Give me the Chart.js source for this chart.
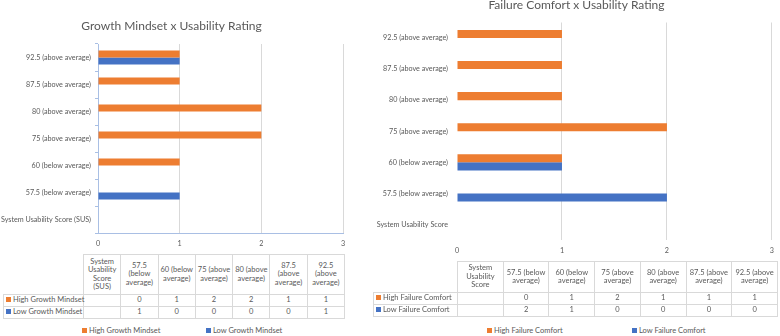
<!DOCTYPE html>
<html>
<head>
<meta charset="utf-8">
<script src="https://cdn.jsdelivr.net/npm/chart.js@4.4.0/dist/chart.umd.min.js"></script>
<style>
  body { margin: 0; width: 780px; height: 336px; overflow: hidden; background: #fff; position: relative;
         font-family: Lato, sans-serif; color: #595959; }
  canvas { position: absolute; }
  table.dt { position: absolute; border-collapse: collapse; table-layout: fixed; font-size: 7.5px; }
  table.dt td { border: 1px solid #d9d9d9; text-align: center; padding: 0 1px; line-height: 8.5px; }
  table.dt td.lbl { text-align: left; white-space: nowrap; padding-left: 2px; }
  table.dt td.blank { border: none; }
  .sw { display: inline-block; width: 5px; height: 5px; margin-right: 2px; vertical-align: 0; }
  .leg { position: absolute; font-size: 7.5px; white-space: nowrap; line-height: 9px; }
</style>
</head>
<body>
<canvas id="leftChart" width="390" height="253" style="left:0;top:0"></canvas>
<canvas id="rightChart" width="405" height="280" style="left:375px;top:-20px"></canvas>
<table class="dt" id="leftTable" style="left:3px;top:254px;width:342px"></table>
<table class="dt" id="rightTable" style="left:373px;top:261px;width:405px"></table>
<div id="leftLegend"></div>
<div id="rightLegend"></div>
<script>
// categories (bottom to top, same order as the data tables)
const leftCategories = ["System Usability Score (SUS)", "57.5 (below average)", "60 (below average)",
  "75 (above average)", "80 (above average)", "87.5 (above average)", "92.5 (above average)"];
const rightCategories = ["System Usability Score", "57.5 (below average)", "60 (below average)",
  "75 (above average)", "80 (above average)", "87.5 (above average)", "92.5 (above average)"];

// series values (first column is blank in the source)
const highGrowth = [null, 0, 1, 2, 2, 1, 1];
const lowGrowth = [null, 1, 0, 0, 0, 0, 1];
const highFailure = [null, 0, 1, 2, 1, 1, 1];
const lowFailure = [null, 2, 1, 0, 0, 0, 0];

const xMin = 0, xMax = 3, xStep = 1;

const ORANGE = "#ED7D31";
const BLUE = "#4472C4";
const TEXT = "#595959";
const GRID = "#d9d9d9";
const AXIS_BLUE = "#a9bfe4";
const small = { family: "Lato", size: 7.2 };

function gridColor(ctx) {
  return ctx.tick && ctx.tick.value === 0 ? "rgba(0,0,0,0)" : GRID;
}

function makeChart(id, title, labels, series, opt) {
  return new Chart(document.getElementById(id), {
    type: "bar",
    data: {
      labels: labels,
      datasets: series.map(s => ({
        label: s.label, data: s.data, backgroundColor: s.color,
        categoryPercentage: 0.52, barPercentage: 1
      }))
    },
    options: {
      indexAxis: "y",
      responsive: false,
      animation: false,
      layout: { padding: opt.padding },
      plugins: {
        legend: { display: false },
        tooltip: { enabled: false },
        title: {
          display: true, text: title, color: TEXT,
          font: { family: "Lato", size: 12, weight: "normal" },
          padding: opt.titlePad
        }
      },
      scales: {
        x: {
          min: xMin, max: xMax,
          ticks: { stepSize: xStep, color: TEXT, font: small, padding: 6 },
          grid: { color: gridColor, drawTicks: false },
          border: { display: opt.axisLines, color: AXIS_BLUE },
          afterFit: s => { s.height = 20; }
        },
        y: {
          reverse: true,
          ticks: { color: TEXT, font: small, padding: opt.yPad },
          grid: opt.axisLines
            ? { offset: true, drawOnChartArea: false, tickLength: 3, color: AXIS_BLUE }
            : { display: false, drawTicks: false },
          border: { display: opt.axisLines, color: AXIS_BLUE },
          afterFit: s => { s.width = opt.yWidth; }
        }
      }
    }
  });
}

const leftSeries = [
  { label: "High Growth Mindset", data: highGrowth, color: ORANGE },
  { label: "Low Growth Mindset", data: lowGrowth, color: BLUE }
];
const rightSeries = [
  { label: "High Failure Comfort", data: highFailure, color: ORANGE },
  { label: "Low Failure Comfort", data: lowFailure, color: BLUE }
];

// y labels are clipped to the scale box, so the scale starts at the canvas edge
makeChart("leftChart", "Growth Mindset x Usability Rating", leftCategories, leftSeries, {
  padding: { left: 0, right: 47, top: 0, bottom: 0 },
  titlePad: { top: 18.8, bottom: 10.8 },
  axisLines: true, yPad: 4, yWidth: 98
});
makeChart("rightChart", "Failure Comfort x Usability Rating", rightCategories, rightSeries, {
  padding: { left: 0, right: 2, top: 0, bottom: 0 },
  titlePad: { top: 18.3, bottom: 9.8 },
  axisLines: false, yPad: 9, yWidth: 82
});

// data table under each chart
function buildTable(id, labels, series, labelWidth, headHeight) {
  const t = document.getElementById(id);
  let html = "<colgroup><col style='width:" + labelWidth + "px'>" +
    labels.map(() => "<col>").join("") + "</colgroup>";
  html += "<tr style='height:" + headHeight + "px'><td class='blank'></td>" +
    labels.map(l => "<td>" + l + "</td>").join("") + "</tr>";
  series.forEach(s => {
    html += "<tr style='height:12px'><td class='lbl'><span class='sw' style='background:" + s.color + "'></span>" +
      s.label + "</td>" + s.data.map(v => "<td>" + (v === null ? "" : v) + "</td>").join("") + "</tr>";
  });
  t.innerHTML = html;
}
buildTable("leftTable", leftCategories, leftSeries, 80, 40);
buildTable("rightTable", rightCategories, rightSeries, 84, 31);

// legends below the tables
function buildLegend(id, series, xs, y) {
  const el = document.getElementById(id);
  el.innerHTML = series.map((s, i) =>
    "<div class='leg' style='left:" + xs[i] + "px;top:" + y + "px'><span class='sw' style='background:" +
    s.color + "'></span>" + s.label + "</div>").join("");
}
buildLegend("leftLegend", leftSeries, [82, 206], 326);
buildLegend("rightLegend", rightSeries, [487, 632], 326);
</script>
</body>
</html>
